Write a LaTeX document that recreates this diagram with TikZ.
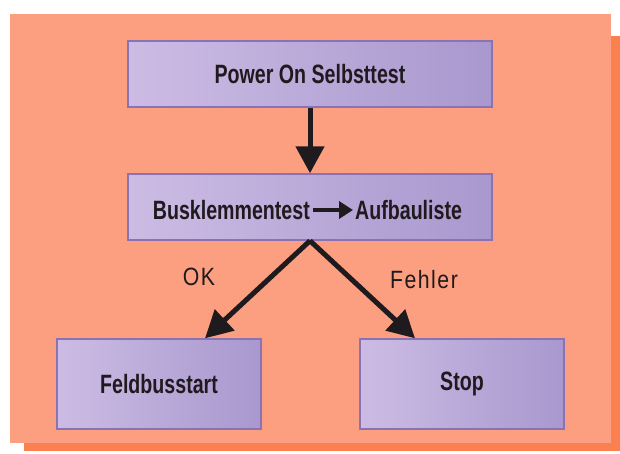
\documentclass[tikz,border=0pt]{standalone}
\usepackage{fontspec}
\setmainfont{Liberation Sans}[FakeStretch=0.74]
\newfontfamily\lblfont{Liberation Sans}[FakeStretch=0.85, LetterSpace=6]
\usetikzlibrary{arrows.meta}
\definecolor{panel}{HTML}{FC9E80}
\definecolor{panelshadow}{HTML}{FB8050}
\definecolor{boxleft}{HTML}{CCBCE4}
\definecolor{boxright}{HTML}{A898CE}
\definecolor{boxedge}{HTML}{8A72B4}
\definecolor{ink}{HTML}{1E1A1E}
\tikzset{
  flowbox/.style={draw=boxedge, line width=1.5pt, left color=boxleft, right color=boxright,
    minimum width=364pt, minimum height=66pt, inner sep=0pt},
  smallbox/.style={flowbox, minimum width=204pt, minimum height=90pt},
  boxtext/.style={text=ink, font=\bfseries\fontsize{26.5}{30}\selectfont, inner sep=0pt},
  lbl/.style={text=ink, font=\lblfont\fontsize{25}{30}\selectfont, inner sep=0pt},
  flowarrow/.style={draw=ink, line width=5pt, -{Triangle[length=27pt,width=28pt]}},
  textarrow/.style={draw=ink, line width=4pt, -{Triangle[length=14pt,width=17pt]}}
}
\begin{document}
\begin{tikzpicture}[x=1pt,y=-1pt]
\useasboundingbox (0,0) rectangle (620,453);
\fill[white] (0,0) rectangle (620,453);
\fill[panelshadow] (24,36) rectangle (620,451);
\fill[panel] (10,14) rectangle (611,443);
\node[flowbox] (pw) at (310,74) {};
\node[boxtext] (pwt) at (pw.center) {Power On Selbsttest};
\node[flowbox] (bk) at (310,207) {};
\node[boxtext, anchor=east] (bk1) at (310,210) {Busklemmentest};
\node[boxtext, anchor=west] (bk2) at (355,210) {Aufbauliste};
\draw[textarrow] ([xshift=3pt]bk1.east) -- ([xshift=-2pt]bk2.west);
\node[smallbox] (fb) at (159,384) {};
\node[boxtext] (fbt) at (fb.center) {Feldbusstart};
\node[smallbox] (st) at (462,384) {};
\node[boxtext] (stt) at (st.center) {Stop};
\draw[flowarrow] (pw.south) -- (bk.north);
\draw[flowarrow] (bk.south) -- ([xshift=46pt]fb.north);
\draw[flowarrow] (bk.south) -- ([xshift=-47pt]st.north);
\node[lbl] (ok) at (199,277) {OK};
\node[lbl] (fe) at (424,280) {Fehler};
\end{tikzpicture}
\end{document}
